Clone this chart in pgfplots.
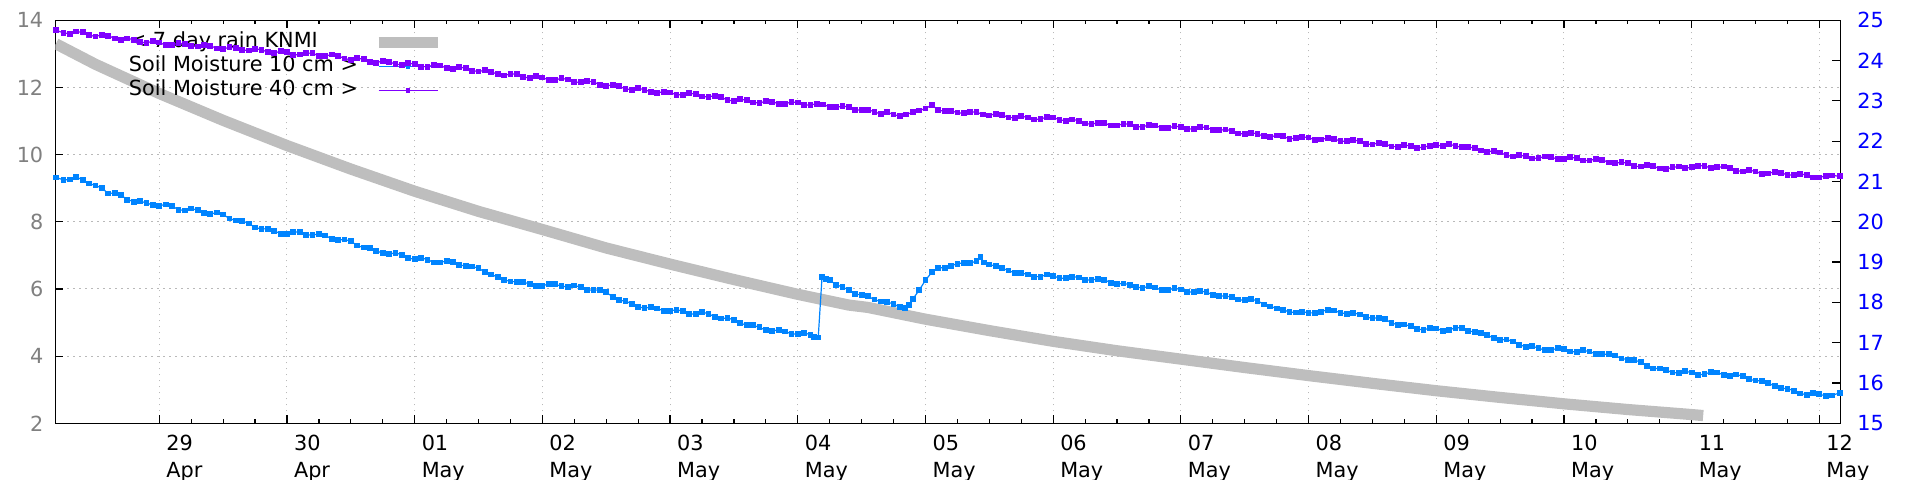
\documentclass[border=0pt]{standalone}
\usepackage{fontspec}
\setmainfont{DejaVu Sans}
\usepackage{pgfplots}
\usepackage{pgfplotstable}
\pgfplotsset{compat=1.18}
\definecolor{rainc}{RGB}{190,190,190}
\definecolor{smten}{RGB}{0,132,255}
\definecolor{smforty}{RGB}{128,0,255}
\definecolor{ticklab}{RGB}{128,128,128}
\definecolor{gridc}{RGB}{185,185,185}

\pgfplotstableread{
x y
0.19 13.30
0.5 12.69
1.0 11.82
1.5 11.02
2.0 10.27
2.5 9.57
3.0 8.91
3.5 8.31
4.0 7.77
4.5 7.22
5.0 6.74
5.5 6.28
6.0 5.84
6.4 5.52
6.55 5.45
7.0 5.10
7.5 4.76
8.0 4.44
8.5 4.16
9.0 3.91
9.5 3.66
10.0 3.42
10.5 3.19
11.0 2.97
11.5 2.77
12.0 2.58
12.5 2.41
13.0 2.26
13.09 2.23
}\rain

\pgfplotstableread{
x y
0.19 21.10
0.25 21.04
0.3 21.05
0.35 21.11
0.4 21.04
0.45 20.95
0.5 20.90
0.55 20.84
0.6 20.70
0.65 20.72
0.7 20.66
0.75 20.55
0.8 20.50
0.85 20.51
0.9 20.47
0.95 20.41
1.0 20.40
1.05 20.43
1.1 20.39
1.15 20.30
1.2 20.28
1.25 20.33
1.3 20.29
1.35 20.22
1.4 20.19
1.45 20.23
1.5 20.18
1.55 20.08
1.6 20.03
1.65 20.02
1.7 19.96
1.75 19.86
1.8 19.82
1.85 19.83
1.9 19.78
1.95 19.70
2.0 19.69
2.05 19.75
2.1 19.74
2.15 19.68
2.2 19.67
2.25 19.70
2.3 19.66
2.35 19.58
2.4 19.55
2.45 19.56
2.5 19.52
2.55 19.41
2.6 19.36
2.65 19.34
2.7 19.28
2.75 19.22
2.8 19.20
2.85 19.23
2.9 19.18
2.95 19.10
3.0 19.07
3.05 19.11
3.1 19.06
3.15 18.99
3.2 18.99
3.25 19.03
3.3 19.00
3.35 18.92
3.4 18.91
3.45 18.89
3.5 18.85
3.55 18.75
3.6 18.69
3.65 18.63
3.7 18.56
3.75 18.52
3.8 18.51
3.85 18.50
3.9 18.46
3.95 18.41
4.0 18.41
4.05 18.46
4.1 18.45
4.15 18.40
4.2 18.39
4.25 18.42
4.3 18.38
4.35 18.31
4.4 18.30
4.45 18.31
4.5 18.25
4.55 18.14
4.6 18.05
4.65 18.03
4.7 17.97
4.75 17.89
4.8 17.86
4.85 17.88
4.9 17.85
4.95 17.79
5.0 17.79
5.05 17.82
5.1 17.78
5.15 17.71
5.2 17.71
5.25 17.76
5.3 17.72
5.35 17.64
5.4 17.60
5.45 17.61
5.5 17.57
5.55 17.48
5.6 17.44
5.65 17.43
5.7 17.38
5.75 17.31
5.8 17.29
5.85 17.32
5.9 17.28
5.95 17.22
6.0 17.21
6.05 17.24
6.1 17.20
6.13 17.15
6.16 17.13
6.19 18.64
6.22 18.58
6.25 18.55
6.3 18.44
6.35 18.38
6.4 18.31
6.45 18.20
6.5 18.19
6.55 18.15
6.6 18.07
6.65 18.02
6.7 18.01
6.75 17.96
6.8 17.88
6.84 17.86
6.87 17.94
6.9 18.08
6.95 18.30
7.0 18.55
7.05 18.75
7.1 18.86
7.15 18.86
7.2 18.91
7.25 18.96
7.3 18.98
7.35 18.97
7.4 19.03
7.43 19.12
7.46 18.99
7.5 18.94
7.55 18.90
7.6 18.85
7.65 18.79
7.7 18.73
7.75 18.73
7.8 18.69
7.85 18.64
7.9 18.64
7.95 18.69
8.0 18.66
8.05 18.60
8.1 18.60
8.15 18.64
8.2 18.62
8.25 18.56
8.3 18.55
8.35 18.59
8.4 18.56
8.45 18.49
8.5 18.46
8.55 18.47
8.6 18.44
8.65 18.38
8.7 18.36
8.75 18.40
8.8 18.37
8.85 18.30
8.9 18.31
8.95 18.35
9.0 18.32
9.05 18.26
9.1 18.26
9.15 18.29
9.2 18.25
9.25 18.19
9.3 18.16
9.35 18.16
9.4 18.13
9.45 18.07
9.5 18.05
9.55 18.08
9.6 18.04
9.65 17.95
9.7 17.90
9.75 17.85
9.8 17.82
9.85 17.76
9.9 17.75
9.95 17.77
10.0 17.74
10.05 17.74
10.1 17.77
10.15 17.82
10.2 17.80
10.25 17.74
10.3 17.72
10.35 17.74
10.4 17.70
10.45 17.63
10.5 17.61
10.55 17.62
10.6 17.58
10.65 17.49
10.7 17.44
10.75 17.45
10.8 17.41
10.85 17.34
10.9 17.32
10.95 17.36
11.0 17.35
11.05 17.30
11.1 17.32
11.15 17.37
11.2 17.37
11.25 17.30
11.3 17.26
11.35 17.24
11.4 17.19
11.45 17.11
11.5 17.07
11.55 17.08
11.6 17.03
11.65 16.95
11.7 16.90
11.75 16.91
11.8 16.87
11.85 16.81
11.9 16.82
11.95 16.86
12.0 16.84
12.05 16.78
12.1 16.77
12.15 16.81
12.2 16.78
12.25 16.72
12.3 16.71
12.35 16.72
12.4 16.68
12.45 16.61
12.5 16.58
12.55 16.57
12.6 16.52
12.65 16.42
12.7 16.36
12.75 16.36
12.8 16.32
12.85 16.26
12.9 16.25
12.95 16.29
13.0 16.26
13.05 16.20
13.1 16.22
13.15 16.27
13.2 16.26
13.25 16.20
13.3 16.17
13.35 16.21
13.4 16.17
13.45 16.09
13.5 16.06
13.55 16.05
13.6 16.00
13.65 15.92
13.7 15.87
13.75 15.86
13.8 15.81
13.85 15.74
13.9 15.71
13.95 15.75
14.0 15.72
14.05 15.68
14.1 15.69
14.16 15.76
}\smTen

\pgfplotstableread{
x y
0.19 24.75
0.25 24.69
0.3 24.66
0.35 24.72
0.4 24.70
0.45 24.63
0.5 24.60
0.55 24.64
0.6 24.62
0.65 24.55
0.7 24.51
0.75 24.55
0.8 24.52
0.85 24.46
0.9 24.44
0.95 24.48
1.0 24.45
1.05 24.38
1.1 24.39
1.15 24.43
1.2 24.42
1.25 24.36
1.3 24.35
1.35 24.39
1.4 24.37
1.45 24.30
1.5 24.29
1.55 24.33
1.6 24.32
1.65 24.26
1.7 24.25
1.75 24.29
1.8 24.27
1.85 24.21
1.9 24.19
1.95 24.23
2.0 24.21
2.05 24.14
2.1 24.15
2.15 24.19
2.2 24.18
2.25 24.12
2.3 24.11
2.35 24.15
2.4 24.12
2.45 24.05
2.5 24.02
2.55 24.06
2.6 24.03
2.65 23.97
2.7 23.95
2.75 23.99
2.8 23.97
2.85 23.91
2.9 23.90
2.95 23.94
3.0 23.91
3.05 23.85
3.1 23.85
3.15 23.89
3.2 23.88
3.25 23.81
3.3 23.80
3.35 23.84
3.4 23.81
3.45 23.75
3.5 23.73
3.55 23.76
3.6 23.72
3.65 23.66
3.7 23.63
3.75 23.67
3.8 23.66
3.85 23.59
3.9 23.57
3.95 23.61
4.0 23.58
4.05 23.52
4.1 23.52
4.15 23.56
4.2 23.53
4.25 23.47
4.3 23.46
4.35 23.49
4.4 23.47
4.45 23.40
4.5 23.37
4.55 23.40
4.6 23.36
4.65 23.30
4.7 23.28
4.75 23.31
4.8 23.28
4.85 23.22
4.9 23.20
4.95 23.23
5.0 23.21
5.05 23.15
5.1 23.15
5.15 23.19
5.2 23.17
5.25 23.11
5.3 23.10
5.35 23.13
5.4 23.09
5.45 23.02
5.5 23.00
5.55 23.04
5.6 23.02
5.65 22.96
5.7 22.95
5.75 22.99
5.8 22.98
5.85 22.93
5.9 22.93
5.95 22.97
6.0 22.96
6.05 22.90
6.1 22.90
6.15 22.93
6.2 22.91
6.25 22.85
6.3 22.84
6.35 22.87
6.4 22.85
6.45 22.78
6.5 22.77
6.55 22.78
6.6 22.73
6.65 22.67
6.7 22.72
6.75 22.66
6.8 22.62
6.85 22.66
6.9 22.72
6.95 22.76
7.0 22.81
7.05 22.90
7.1 22.77
7.15 22.74
7.2 22.75
7.25 22.71
7.3 22.69
7.35 22.73
7.4 22.72
7.45 22.66
7.5 22.64
7.55 22.68
7.6 22.65
7.65 22.59
7.7 22.58
7.75 22.62
7.8 22.59
7.85 22.54
7.9 22.55
7.95 22.60
8.0 22.59
8.05 22.53
8.1 22.51
8.15 22.54
8.2 22.51
8.25 22.44
8.3 22.42
8.35 22.46
8.4 22.45
8.45 22.39
8.5 22.39
8.55 22.43
8.6 22.42
8.65 22.36
8.7 22.36
8.75 22.40
8.8 22.39
8.85 22.33
8.9 22.33
8.95 22.37
9.0 22.36
9.05 22.30
9.1 22.31
9.15 22.35
9.2 22.34
9.25 22.28
9.3 22.27
9.35 22.29
9.4 22.26
9.45 22.19
9.5 22.18
9.55 22.21
9.6 22.18
9.65 22.12
9.7 22.11
9.75 22.14
9.8 22.12
9.85 22.06
9.9 22.07
9.95 22.11
10.0 22.09
10.05 22.03
10.1 22.04
10.15 22.08
10.2 22.06
10.25 22.00
10.3 22.00
10.35 22.03
10.4 22.00
10.45 21.93
10.5 21.92
10.55 21.96
10.6 21.93
10.65 21.87
10.7 21.86
10.75 21.90
10.8 21.89
10.85 21.84
10.9 21.85
10.95 21.89
11.0 21.90
11.05 21.88
11.1 21.93
11.15 21.88
11.2 21.85
11.25 21.86
11.3 21.83
11.35 21.77
11.4 21.74
11.45 21.76
11.5 21.72
11.55 21.65
11.6 21.62
11.65 21.65
11.7 21.63
11.75 21.57
11.8 21.58
11.85 21.62
11.9 21.61
11.95 21.55
12.0 21.56
12.05 21.60
12.1 21.58
12.15 21.52
12.2 21.52
12.25 21.56
12.3 21.54
12.35 21.47
12.4 21.45
12.45 21.48
12.5 21.45
12.55 21.38
12.6 21.37
12.65 21.40
12.7 21.38
12.75 21.32
12.8 21.31
12.85 21.35
12.9 21.37
12.95 21.33
13.0 21.35
13.05 21.39
13.1 21.39
13.15 21.33
13.2 21.35
13.25 21.37
13.3 21.34
13.35 21.27
13.4 21.25
13.45 21.28
13.5 21.25
13.55 21.19
13.6 21.20
13.65 21.24
13.7 21.22
13.75 21.16
13.8 21.16
13.85 21.19
13.9 21.16
13.95 21.10
14.0 21.10
14.05 21.14
14.1 21.15
14.16 21.13
}\smForty

\begin{document}
\begin{tikzpicture}[font=\fontsize{10.4}{12.5}\selectfont]
\pgfplotsset{
  common/.style={
    scale only axis, width=892.5pt, height=201.5pt,
    xmin=0.1856, xmax=14.164,
    /pgf/number format/assume math mode=true,
    axis line style={line width=0.7pt, black},
    major tick length=4pt, minor tick length=2pt,
    tick align=inside,
    tick style={black, line width=0.6pt},
  },
}
\begin{axis}[common,
  ymin=2, ymax=14, ytick={2,4,...,14}, ytick pos=left,
  yticklabel style={text=ticklab, xshift=-2.5pt},
  xtick={1,...,14}, minor x tick num=3,
  xticklabels={29\\Apr,30\\Apr,01\\May,02\\May,03\\May,04\\May,05\\May,06\\May,07\\May,08\\May,09\\May,10\\May,11\\May,12\\May},
  xticklabel style={align=left, anchor=north west, font=\fontsize{10.4}{13.5}\selectfont, yshift=-2.5pt},
  grid=major, grid style={gridc, line width=0.5pt, dash pattern=on 0.6pt off 2.4pt},
  legend plot pos=right, legend cell align=left,
  legend image code/.code={\draw[mark repeat=2,mark phase=2,#1] plot coordinates {(0pt,0pt) (14.75pt,0pt) (29.5pt,0pt)};},
  legend style={at={(rel axis cs:0.0399,0.976)}, anchor=north west, draw=none, fill=none,
    inner sep=0pt, row sep=0pt, column sep=6.5pt,
    nodes={inner sep=1pt, text height=7.5pt, text depth=2.5pt}},
]
\addplot[rainc, line width=5.6pt, line join=round, mark=none] table[x=x,y=y] {\rain};
\addlegendentry{< 7 day rain KNMI}
\addlegendimage{smten, line width=0.5pt, mark=square*, mark size=0.9pt}
\addlegendentry{Soil Moisture 10 cm >}
\addlegendimage{smforty, line width=0.5pt, mark=square*, mark size=0.9pt}
\addlegendentry{Soil Moisture 40 cm >}
\end{axis}
\begin{axis}[common,
  ymin=15, ymax=25, ytick={15,...,25},
  axis y line*=right, hide x axis,
  yticklabel style={text=blue, xshift=5pt},
]
\addplot[smten, line width=0.6pt, mark=square*, mark size=1.15pt] table[x=x,y=y] {\smTen};
\addplot[smforty, line width=0.6pt, mark=square*, mark size=1.15pt] table[x=x,y=y] {\smForty};
\end{axis}
\pgfresetboundingbox
\useasboundingbox (-27.65pt,-28.35pt) rectangle (932.35pt,211.65pt);
\end{tikzpicture}
\end{document}
